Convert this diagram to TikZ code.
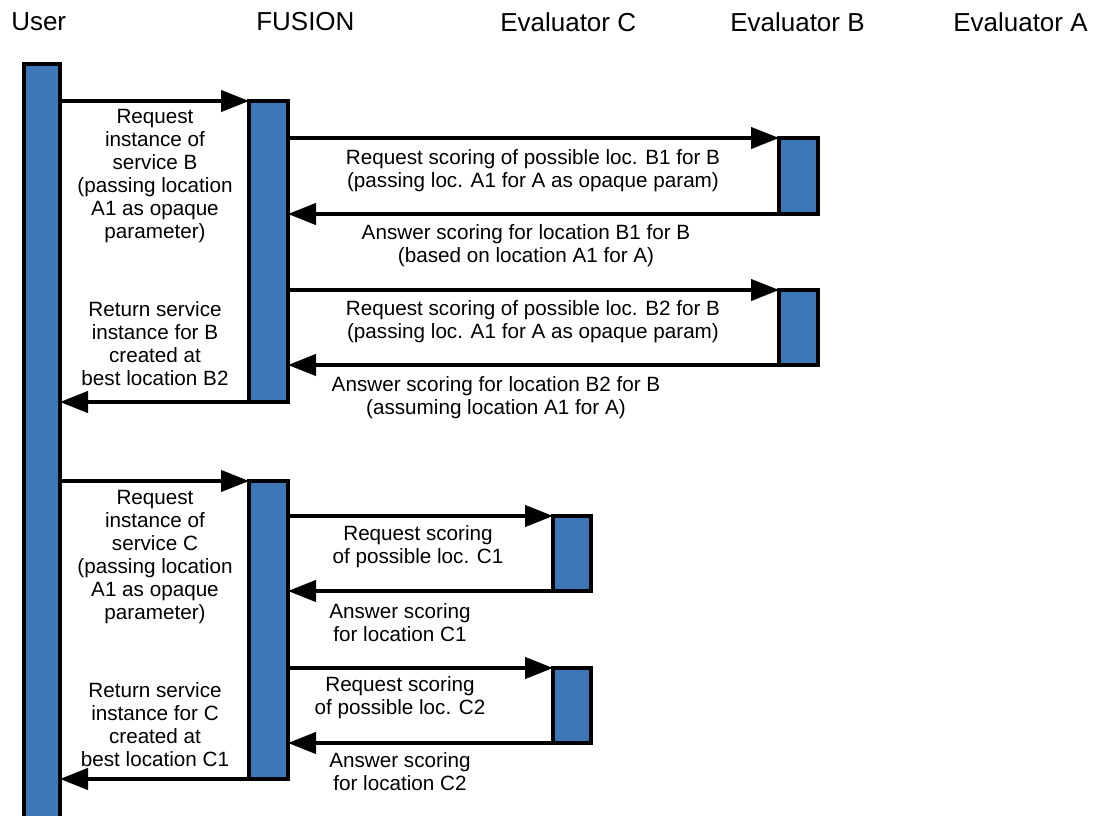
\documentclass[tikz,border=0pt]{standalone}
\usepackage{fontspec}
\setmainfont{Liberation Sans}
\usetikzlibrary{arrows.meta}
\definecolor{barblue}{RGB}{61,119,181}
\begin{document}
\begin{tikzpicture}[x=0.75pt,y=-0.75pt,
  bar/.style 2 args={draw=black, fill=barblue, line width=2.4pt, rectangle,
    inner sep=0pt, outer sep=0pt, anchor=north west,
    minimum width=#1*0.75pt, minimum height=#2*0.75pt},
  msg/.style={line width=2.4pt, -{Triangle[length=21pt,width=16pt]}},
  lbl/.style={align=center, font=\fontsize{15.5}{17.25}\selectfont, inner sep=0pt},
  head/.style={font=\fontsize{19.5}{21}\selectfont, inner sep=0pt, anchor=west}]
\useasboundingbox (0,0) rectangle (1100,816);

% lifeline headers
\node[head] (hUser) at (11,22) {User};
\node[head] (hFusion) at (256,22) {FUSION};
\node[head] (hEvalC) at (500,22) {Evaluator C};
\node[head] (hEvalB) at (730,22) {Evaluator B};
\node[head] (hEvalA) at (953,22) {Evaluator A};

% activation bars
\node[bar={36}{760}] (u) at (24,64) {};
\node[bar={39}{301}] (f1) at (249,101) {};
\node[bar={39}{76}] (b1) at (779,138) {};
\node[bar={39}{75}] (b2) at (779,290) {};
\node[bar={39}{298}] (f2) at (249,481) {};
\node[bar={38}{75}] (c1) at (553,516) {};
\node[bar={38}{75}] (c2) at (553,668) {};

% service B request
\draw[msg] (f1.north west -| u.east) -- (f1.north west);
\draw[msg] (b1.north west -| f1.east) -- (b1.north west);
\draw[msg] (b1.south west) -- (b1.south west -| f1.east);
\draw[msg] (b2.north west -| f1.east) -- (b2.north west);
\draw[msg] (b2.south west) -- (b2.south west -| f1.east);
\draw[msg] (f1.south west) -- (f1.south west -| u.east);

% service C request
\draw[msg] (f2.north west -| u.east) -- (f2.north west);
\draw[msg] (c1.north west -| f2.east) -- (c1.north west);
\draw[msg] (c1.south west) -- (c1.south west -| f2.east);
\draw[msg] (c2.north west -| f2.east) -- (c2.north west);
\draw[msg] (c2.south west) -- (c2.south west -| f2.east);
\draw[msg] (f2.south west) -- (f2.south west -| u.east);

% message labels
\node[lbl] (tReqB) at (155,176) {Request\\instance of\\service B\\(passing location\\A1 as opaque\\parameter)};
\node[lbl] (tRetB) at (155,344) {Return service\\instance for B\\created at\\best location B2};
\node[lbl] (tReqB1) at (533,171) {Request scoring of possible loc. B1 for B\\(passing loc. A1 for A as opaque param)};
\node[lbl] (tAnsB1) at (526,246) {Answer scoring for location B1 for B\\(based on location A1 for A)};
\node[lbl] (tReqB2) at (533,322) {Request scoring of possible loc. B2 for B\\(passing loc. A1 for A as opaque param)};
\node[lbl] (tAnsB2) at (496,398) {Answer scoring for location B2 for B\\(assuming location A1 for A)};

\node[lbl] (tReqC) at (155,557) {Request\\instance of\\service C\\(passing location\\A1 as opaque\\parameter)};
\node[lbl] (tRetC) at (155,725) {Return service\\instance for C\\created at\\best location C1};
\node[lbl] (tReqC1) at (418,547) {Request scoring\\of possible loc. C1};
\node[lbl] (tAnsC1) at (400,623) {Answer scoring\\for location C1};
\node[lbl] (tReqC2) at (400,698) {Request scoring\\of possible loc. C2};
\node[lbl] (tAnsC2) at (400,772) {Answer scoring\\for location C2};
\end{tikzpicture}
\end{document}
